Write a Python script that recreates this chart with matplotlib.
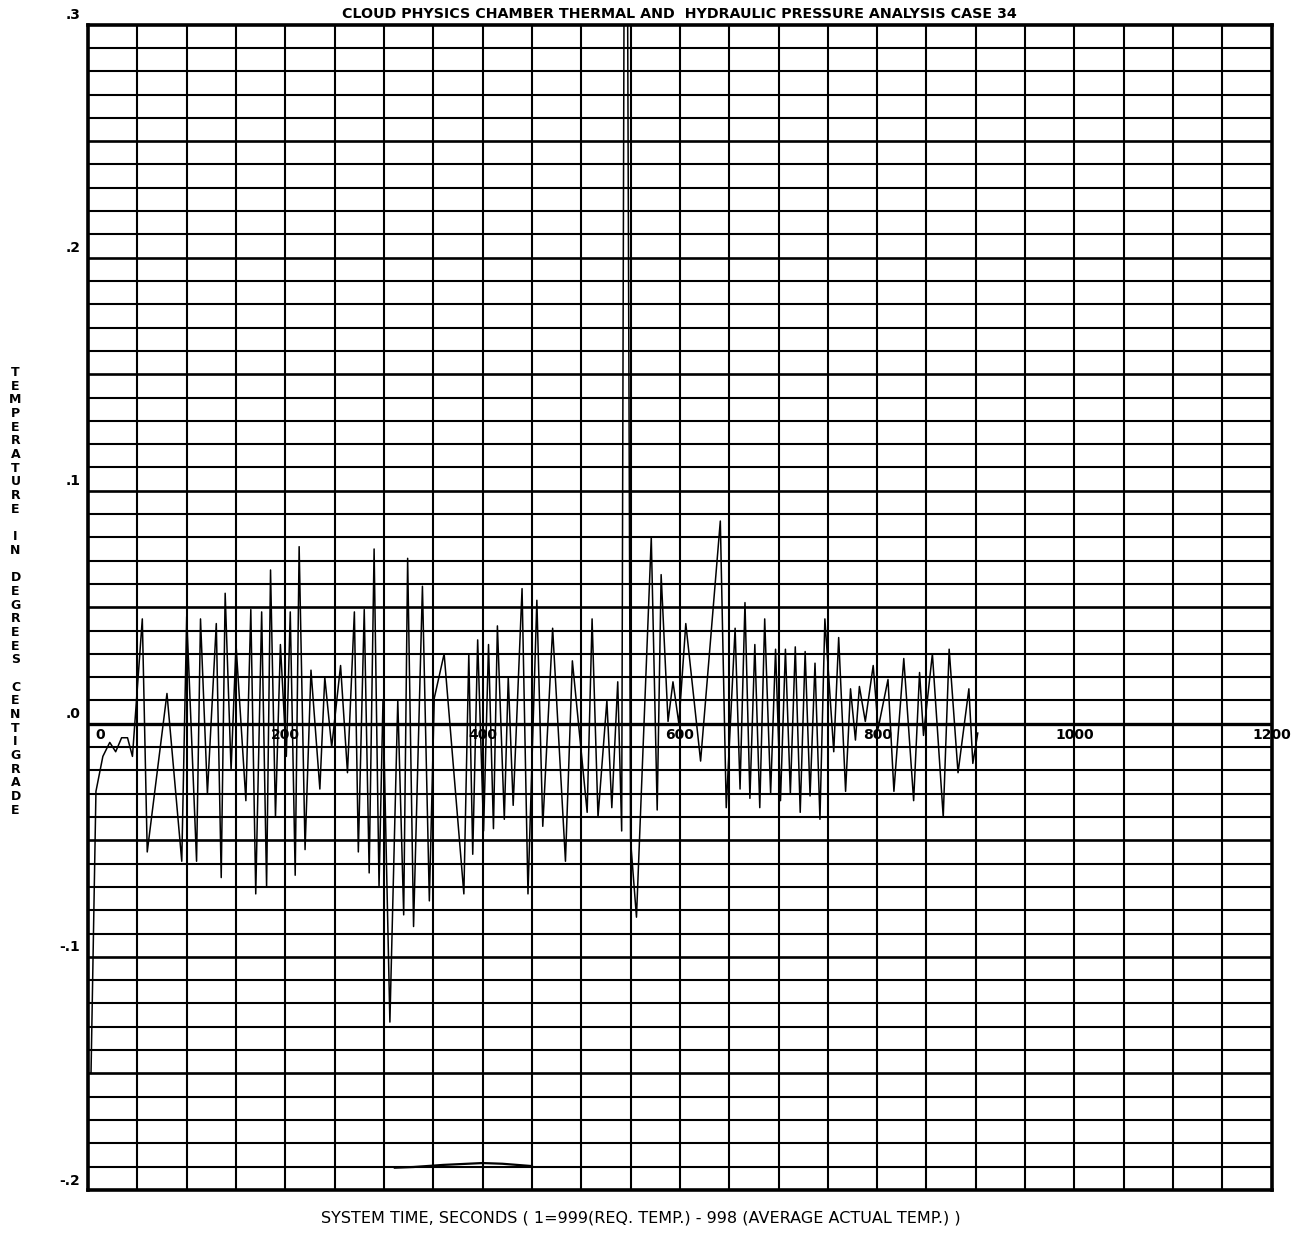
import numpy as np
from matplotlib import pyplot as plt

# difference between requested temp (999) and average actual temp (998), deg C
time_s = [3, 8, 15, 22, 28, 34, 40, 45, 55, 60, 80, 95, 100, 110, 114, 121, 130, 135,
          139, 145, 150, 160, 165, 170, 176, 181, 185, 190, 195, 201, 205, 210, 214,
          220, 226, 235, 240, 247, 256, 263, 270, 274, 280, 285, 290, 295, 299, 306,
          314, 320, 324, 330, 339, 346, 351, 361, 381, 386, 390, 395, 401, 406, 411,
          415, 422, 426, 431, 440, 446, 455, 461, 471, 484, 491, 506, 511, 517, 526,
          531, 537, 541, 545, 550, 556, 571, 577, 581, 588, 593, 599, 606, 621, 641,
          647, 656, 661, 666, 671, 676, 681, 686, 692, 697, 702, 707, 712, 717, 722,
          727, 732, 737, 742, 747, 756, 761, 768, 773, 778, 782, 788, 796, 801, 811,
          817, 827, 837, 843, 847, 856, 867, 873, 882, 893, 897, 902]
temp_diff = [-0.150, -0.029, -0.014, -0.008, -0.012, -0.006, -0.006, -0.014, 0.045,
             -0.055, 0.013, -0.059, 0.046, -0.059, 0.045, -0.030, 0.043, -0.066,
             0.056, -0.020, 0.034, -0.033, 0.049, -0.073, 0.048, -0.070, 0.066,
             -0.040, 0.034, -0.014, 0.048, -0.065, 0.076, -0.054, 0.023, -0.028,
             0.020, -0.010, 0.025, -0.021, 0.048, -0.055, 0.049, -0.064, 0.075,
             -0.070, 0.010, -0.128, 0.010, -0.082, 0.071, -0.087, 0.059, -0.076,
             0.011, 0.030, -0.073, 0.030, -0.056, 0.036, -0.046, 0.034, -0.045,
             0.042, -0.041, 0.020, -0.035, 0.058, -0.073, 0.053, -0.044, 0.041,
             -0.059, 0.027, -0.038, 0.045, -0.040, 0.010, -0.036, 0.018, -0.046,
             0.550, -0.050, -0.083, 0.080, -0.037, 0.064, 0.001, 0.018, 0.000,
             0.043, -0.016, 0.087, -0.036, 0.041, -0.028, 0.052, -0.032, 0.034,
             -0.036, 0.045, -0.030, 0.032, -0.033, 0.032, -0.030, 0.033, -0.038,
             0.031, -0.031, 0.026, -0.041, 0.045, -0.012, 0.037, -0.029, 0.015,
             -0.007, 0.016, 0.001, 0.025, -0.002, 0.019, -0.029, 0.028, -0.033,
             0.022, -0.005, 0.030, -0.040, 0.032, -0.021, 0.015, -0.017, -0.004]

# short trace near the bottom of the scale
low_time = [311, 330, 360, 400, 420, 450]
low_temp = [-0.1905, -0.1902, -0.1893, -0.1885, -0.1888, -0.1898]

x_ticks = [0, 200, 400, 600, 800, 1000, 1200]
y_ticks = [0.3, 0.2, 0.1, 0.0, -0.1, -0.2]
y_tick_labels = ['.3', '.2', '.1', '.0', '-.1', '-.2']

fig = plt.figure(figsize=(12.95, 12.33), dpi=100)
ax = fig.add_axes([0.068, 0.035, 0.914, 0.945])
ax.set_xlim(0, 1200)
ax.set_ylim(-0.2, 0.3)

# plotter grid: every 50 s and every 0.01 deg
for gx in np.arange(50, 1200, 50):
    ax.axvline(gx, color='black', lw=1.5, zorder=1)
for gy in np.arange(-0.19, 0.30, 0.01):
    major = abs(gy / 0.05 - round(gy / 0.05)) < 1e-6
    ax.axhline(gy, color='black', lw=1.9 if major else 1.5, zorder=1)
ax.axhline(0, color='black', lw=2.4, zorder=1)

for s in ax.spines.values():
    s.set_linewidth(2.6)

ax.plot(time_s, temp_diff, color='black', lw=1.1, zorder=3)
ax.plot(low_time, low_temp, color='black', lw=1.6, zorder=3)

ax.set_xticks([])
ax.set_yticks([])

for xt in x_ticks:
    if xt == 0:
        ax.text(xt + 12, -0.002, str(xt), ha='center', va='top', fontsize=10,
                fontweight='bold')
    else:
        ax.text(xt, -0.002, str(xt), ha='center', va='top', fontsize=10,
                fontweight='bold', clip_on=False)

for yt, lab in zip(y_ticks, y_tick_labels):
    ax.text(-8, yt + 0.004, lab, ha='right', va='center', fontsize=10,
            fontweight='bold', clip_on=False)

ax.set_title('CLOUD PHYSICS CHAMBER THERMAL AND  HYDRAULIC PRESSURE ANALYSIS CASE 34',
             fontsize=10.3, fontweight='bold', pad=5)

fig.text(0.495, 0.012,
         'SYSTEM TIME, SECONDS ( 1=999(REQ. TEMP.) - 998 (AVERAGE ACTUAL TEMP.) )',
         ha='center', va='center', fontsize=11.5)

# stacked vertical axis title
ylabel = 'TEMPERATURE IN DEGREES CENTIGRADE'
for i, ch in enumerate(ylabel):
    fig.text(0.012, 0.698 - i * 0.0111, ch, ha='center', va='center',
             fontsize=9, fontweight='bold')

fig.savefig('out.png', dpi=100)
